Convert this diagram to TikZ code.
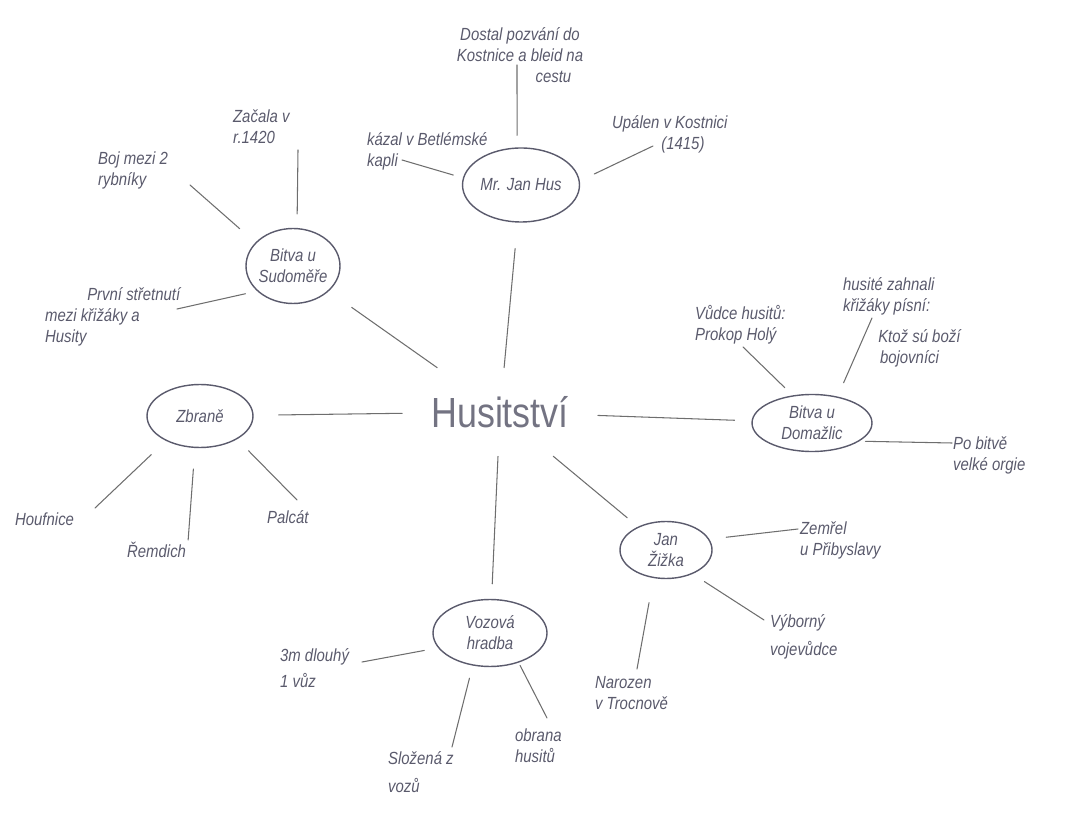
\documentclass[tikz,border=0pt]{standalone}
\usepackage{fontspec}
\newfontfamily\pencil[FakeStretch=0.85]{Liberation Sans}
\usepackage{tikz}
\usetikzlibrary{shapes.geometric}
\definecolor{graphite}{HTML}{5A5A6C}
\definecolor{leadline}{HTML}{6E6E6E}

\begin{document}
\begin{tikzpicture}[x=0.02cm,y=-0.02cm,
  root/.style={
    font=\pencil\fontsize{24}{28}\selectfont, text=graphite!85,
    minimum width=3.9cm, minimum height=1.76cm, inner sep=0pt
  },
  topic/.style={
    ellipse, draw=graphite, line width=0.8pt, inner sep=-4pt,
    text=graphite, align=center,
    font=\pencil\itshape\fontsize{10}{12}\selectfont
  },
  leaf/.style={
    anchor=north west, inner sep=1pt, align=left, text=graphite,
    font=\pencil\itshape\fontsize{10}{12}\selectfont
  },
  link/.style={draw=leadline, line width=0.6pt, line cap=round}
]
\useasboundingbox (0,0) rectangle (1067,813);

\node[root] (hust) at (500,412) {Husitství};

\node[topic, minimum width=2.34cm, minimum height=1.48cm] (hus) at (521,185) {Mr. Jan Hus};
\node[topic, minimum width=1.88cm, minimum height=1.5cm] (sudomer) at (293,266) {Bitva u\\Sudoměře};
\node[topic, minimum width=2.12cm, minimum height=1.26cm] (zbrane) at (200,416) {Zbraně};
\node[topic, minimum width=2.4cm, minimum height=1.14cm] (domazlice) at (812,423) {Bitva u\\Domažlic};
\node[topic, minimum width=1.84cm, minimum height=1.14cm] (zizka) at (666,550) {Jan\\Žižka};
\node[topic, minimum width=2.28cm, minimum height=1.34cm] (vozova) at (490,633) {Vozová\\hradba};

\node[leaf, anchor=north, align=center] (pozvani) at (520,25) {Dostal pozvání do\\Kostnice a bleid na\\\hspace*{38pt}cestu};
\node[leaf] (kazal) at (365,130) {kázal v Betlémské\\kapli};
\node[leaf] (upalen) at (610,113) {Upálen v Kostnici\\\hspace*{28pt}(1415)};

\node[leaf] (zacala) at (231,108) {Začala v\\r.1420};
\node[leaf] (boj) at (96,150) {Boj mezi 2\\rybníky};
\node[leaf] (stretnuti) at (43,285) {\hspace*{24pt}První střetnutí\\mezi křižáky a\\Husity};

\node[leaf] (houfnice) at (13,511) {Houfnice};
\node[leaf] (remdich) at (125,540) {Řemdich};
\node[leaf] (palcat) at (265,508) {Palcát};

\node[leaf] (vudce) at (693,303) {Vůdce husitů:\\Prokop Holý};
\node[leaf] (pisen) at (841,275) {husité zahnali\\křižáky písní:\\[6pt]\hspace*{20pt}Ktož sú boží\\\hspace*{21pt}bojovníci};
\node[leaf] (orgie) at (951,435) {Po bitvě\\velké orgie};

\node[leaf] (zemrel) at (798,520) {Zemřel\\u Přibyslavy};
\node[leaf] (vyborny) at (768,612) {Výborný\\[4pt]vojevůdce};
\node[leaf] (narozen) at (593,674) {Narozen\\v Trocnově};

\node[leaf] (dlouhy) at (278,646) {3m dlouhý\\[3pt]1 vůz};
\node[leaf] (slozena) at (386,749) {Složená z\\[4pt]vozů};
\node[leaf] (obrana) at (513,727) {obrana\\husitů};

\draw[link, shorten >=0.52cm] (hust) -- (hus);
\draw[link, shorten >=0.56cm] (hust) -- (sudomer);
\draw[link, shorten >=0.5cm] (hust) -- (zbrane);
\draw[link, shorten >=0.34cm] (hust) -- (domazlice);
\draw[link, shorten >=0.28cm] (hust) -- (zizka);
\draw[link, shorten >=0.3cm] (hust) -- (vozova);

\draw[link, shorten >=0.24cm] ([shift={(-3,40)}]pozvani.north) -- (hus.96);
\draw[link, shorten >=0.2cm] ([shift={(37,30)}]kazal.north west) -- (hus.173);
\draw[link, shorten >=0.32cm] ([shift={(43,33)}]upalen.north west) -- (hus.4);
\draw[link, shorten >=0.28cm] ([shift={(67,42)}]zacala.north west) -- (sudomer.84);
\draw[link, shorten >=0.42cm] ([shift={(94,35)}]boj.north west) -- (sudomer.148);
\draw[link, shorten >=0.24cm] ([shift={(134,24)}]stretnuti.north west) -- (sudomer.215);
\draw[link, shorten >=0.4cm] ([shift={(82,-3)}]houfnice.north west) -- (zbrane.216);
\draw[link, shorten >=0.42cm] (remdich.north east) -- (zbrane.261);
\draw[link, shorten >=0.32cm] ([shift={(32,-8)}]palcat.north west) -- (zbrane.-32);
\draw[link, shorten >=0.22cm] ([shift={(50,44)}]vudce.north west) -- (domazlice.125);
\draw[link, shorten >=0.3cm] ([shift={(31,43)}]pisen.north west) -- (domazlice.46);
\draw[link, shorten >=0.12cm] ([shift={(1,8)}]orgie.north west) -- (domazlice.-21);
\draw[link, shorten >=0.34cm] ([shift={(0,9)}]zemrel.north west) -- (zizka.14);
\draw[link, shorten >=0.28cm] ([shift={(-4,8)}]vyborny.north west) -- (zizka.-42);
\draw[link, shorten >=0.5cm] ([shift={(44,-5)}]narozen.north west) -- (zizka.246);
\draw[link, shorten >=0.28cm] ([shift={(84,16)}]dlouhy.north west) -- (vozova.196);
\draw[link, shorten >=0.26cm] ([shift={(66,-2)}]slozena.north west) -- (vozova.242);
\draw[link, shorten >=0.06cm] ([shift={(34,-9)}]obrana.north west) -- (vozova.-46);
\end{tikzpicture}
\end{document}
